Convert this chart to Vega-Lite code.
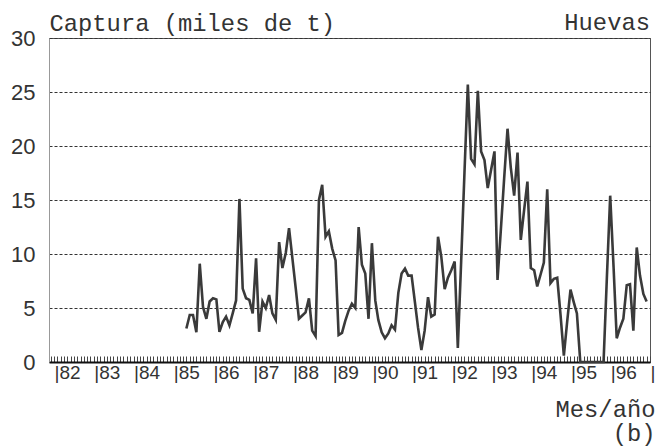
{
  "$schema": "https://vega.github.io/schema/vega-lite/v6.json",
  "width": 601,
  "height": 324,
  "autosize": "none",
  "padding": {"left": 49, "top": 38, "right": 8, "bottom": 85},
  "background": "white",
  "config": {"view": {"stroke": "#555", "strokeWidth": 1}},
  "layer": [
    {
      "data": {"values": [
        {"mes": "1985-05", "captura": 3.1},
        {"mes": "1985-06", "captura": 4.35},
        {"mes": "1985-07", "captura": 4.35},
        {"mes": "1985-08", "captura": 2.75},
        {"mes": "1985-09", "captura": 9.1},
        {"mes": "1985-10", "captura": 5.1},
        {"mes": "1985-11", "captura": 4.0},
        {"mes": "1985-12", "captura": 5.6},
        {"mes": "1986-01", "captura": 5.9},
        {"mes": "1986-02", "captura": 5.8},
        {"mes": "1986-03", "captura": 2.8},
        {"mes": "1986-04", "captura": 3.7},
        {"mes": "1986-05", "captura": 4.2},
        {"mes": "1986-06", "captura": 3.4},
        {"mes": "1986-07", "captura": 4.5},
        {"mes": "1986-08", "captura": 5.7},
        {"mes": "1986-09", "captura": 15.1},
        {"mes": "1986-10", "captura": 6.8},
        {"mes": "1986-11", "captura": 5.9},
        {"mes": "1986-12", "captura": 5.75},
        {"mes": "1987-01", "captura": 4.5},
        {"mes": "1987-02", "captura": 9.6},
        {"mes": "1987-03", "captura": 2.8},
        {"mes": "1987-04", "captura": 5.6},
        {"mes": "1987-05", "captura": 5.0},
        {"mes": "1987-06", "captura": 6.2},
        {"mes": "1987-07", "captura": 4.5},
        {"mes": "1987-08", "captura": 3.9},
        {"mes": "1987-09", "captura": 11.1},
        {"mes": "1987-10", "captura": 8.7},
        {"mes": "1987-11", "captura": 10.1},
        {"mes": "1987-12", "captura": 12.4},
        {"mes": "1988-01", "captura": 9.6},
        {"mes": "1988-02", "captura": 6.8},
        {"mes": "1988-03", "captura": 4.0},
        {"mes": "1988-04", "captura": 4.3},
        {"mes": "1988-05", "captura": 4.6},
        {"mes": "1988-06", "captura": 5.9},
        {"mes": "1988-07", "captura": 2.9},
        {"mes": "1988-08", "captura": 2.4},
        {"mes": "1988-09", "captura": 15.0},
        {"mes": "1988-10", "captura": 16.4},
        {"mes": "1988-11", "captura": 11.6},
        {"mes": "1988-12", "captura": 12.1},
        {"mes": "1989-01", "captura": 10.5},
        {"mes": "1989-02", "captura": 9.4},
        {"mes": "1989-03", "captura": 2.5},
        {"mes": "1989-04", "captura": 2.7},
        {"mes": "1989-05", "captura": 3.8},
        {"mes": "1989-06", "captura": 4.75},
        {"mes": "1989-07", "captura": 5.4},
        {"mes": "1989-08", "captura": 5.0},
        {"mes": "1989-09", "captura": 12.5},
        {"mes": "1989-10", "captura": 9.0},
        {"mes": "1989-11", "captura": 8.2},
        {"mes": "1989-12", "captura": 4.0},
        {"mes": "1990-01", "captura": 11.0},
        {"mes": "1990-02", "captura": 5.7},
        {"mes": "1990-03", "captura": 3.9},
        {"mes": "1990-04", "captura": 2.75},
        {"mes": "1990-05", "captura": 2.2},
        {"mes": "1990-06", "captura": 2.65},
        {"mes": "1990-07", "captura": 3.4},
        {"mes": "1990-08", "captura": 3.0},
        {"mes": "1990-09", "captura": 6.4},
        {"mes": "1990-10", "captura": 8.2},
        {"mes": "1990-11", "captura": 8.65},
        {"mes": "1990-12", "captura": 8.0},
        {"mes": "1991-01", "captura": 8.0},
        {"mes": "1991-02", "captura": 5.5},
        {"mes": "1991-03", "captura": 3.2},
        {"mes": "1991-04", "captura": 1.1},
        {"mes": "1991-05", "captura": 2.9},
        {"mes": "1991-06", "captura": 6.0},
        {"mes": "1991-07", "captura": 4.2},
        {"mes": "1991-08", "captura": 4.4},
        {"mes": "1991-09", "captura": 11.6},
        {"mes": "1991-10", "captura": 9.75},
        {"mes": "1991-11", "captura": 6.75},
        {"mes": "1991-12", "captura": 7.8},
        {"mes": "1992-01", "captura": 8.5},
        {"mes": "1992-02", "captura": 9.3},
        {"mes": "1992-03", "captura": 1.3},
        {"mes": "1992-04", "captura": 9.4},
        {"mes": "1992-05", "captura": 17.5},
        {"mes": "1992-06", "captura": 25.7},
        {"mes": "1992-07", "captura": 18.8},
        {"mes": "1992-08", "captura": 18.3},
        {"mes": "1992-09", "captura": 25.1},
        {"mes": "1992-10", "captura": 19.5},
        {"mes": "1992-11", "captura": 18.7},
        {"mes": "1992-12", "captura": 16.1},
        {"mes": "1993-01", "captura": 17.8},
        {"mes": "1993-02", "captura": 19.5},
        {"mes": "1993-03", "captura": 7.6},
        {"mes": "1993-04", "captura": 12.3},
        {"mes": "1993-05", "captura": 17.0},
        {"mes": "1993-06", "captura": 21.6},
        {"mes": "1993-07", "captura": 18.0},
        {"mes": "1993-08", "captura": 15.4},
        {"mes": "1993-09", "captura": 19.4},
        {"mes": "1993-10", "captura": 11.3},
        {"mes": "1993-11", "captura": 14.1},
        {"mes": "1993-12", "captura": 16.7},
        {"mes": "1994-01", "captura": 8.7},
        {"mes": "1994-02", "captura": 8.5},
        {"mes": "1994-03", "captura": 7.0},
        {"mes": "1994-04", "captura": 8.1},
        {"mes": "1994-05", "captura": 9.2},
        {"mes": "1994-06", "captura": 16.0},
        {"mes": "1994-07", "captura": 7.3},
        {"mes": "1994-08", "captura": 7.7},
        {"mes": "1994-09", "captura": 7.8},
        {"mes": "1994-10", "captura": 4.4},
        {"mes": "1994-11", "captura": 0.6},
        {"mes": "1994-12", "captura": 3.7},
        {"mes": "1995-01", "captura": 6.7},
        {"mes": "1995-02", "captura": 5.5},
        {"mes": "1995-03", "captura": 4.5},
        {"mes": "1995-04", "captura": 0},
        {"mes": "1995-05", "captura": 0},
        {"mes": "1995-06", "captura": 0},
        {"mes": "1995-07", "captura": 0},
        {"mes": "1995-08", "captura": 0},
        {"mes": "1995-09", "captura": 0},
        {"mes": "1995-10", "captura": 0},
        {"mes": "1995-11", "captura": 0},
        {"mes": "1995-12", "captura": 7.7},
        {"mes": "1996-01", "captura": 15.4},
        {"mes": "1996-02", "captura": 8.8},
        {"mes": "1996-03", "captura": 2.2},
        {"mes": "1996-04", "captura": 3.2},
        {"mes": "1996-05", "captura": 4.0},
        {"mes": "1996-06", "captura": 7.1},
        {"mes": "1996-07", "captura": 7.2},
        {"mes": "1996-08", "captura": 2.9},
        {"mes": "1996-09", "captura": 10.6},
        {"mes": "1996-10", "captura": 8.0},
        {"mes": "1996-11", "captura": 6.3},
        {"mes": "1996-12", "captura": 5.6}
      ]},
      "mark": {"type": "line", "color": "#3a3a3a", "strokeWidth": 2.6},
      "encoding": {
        "x": {
          "field": "mes",
          "type": "temporal",
          "scale": {"type": "utc", "domain": [{"year": 1981, "month": 11, "date": 15, "utc": true}, {"year": 1997, "month": 1, "date": 1, "utc": true}]},
          "axis": {
            "title": ["Mes/año", "(b)\u00a0"],
            "titleFont": "Liberation Mono",
            "titleFontSize": 23.8,
            "titleFontWeight": "normal",
            "titleColor": "#333",
            "titleAlign": "right",
            "titleX": 606,
            "titleY": 54,
            "titleBaseline": "alphabetic",
            "titleLineHeight": 24,
            "tickCount": {"interval": "month", "step": 1},
            "tickSize": -6,
            "tickColor": "#444",
            "tickWidth": 1,
            "domainColor": "#111",
            "domainWidth": 2,
            "grid": false,
            "labelExpr": "utcmonth(datum.value) == 0 ? (utcyear(datum.value) == 1997 ? '|' : '|' + utcFormat(datum.value, '%y')) : ''",
            "labelAlign": "left",
            "labelBaseline": "top",
            "labelPadding": 7,
            "labelFont": "Liberation Sans",
            "labelFontSize": 19,
            "labelColor": "#333",
            "labelOverlap": false,
            "labelFlush": false,
            "labelBound": false
          }
        },
        "y": {
          "field": "captura",
          "type": "quantitative",
          "scale": {"domain": [0, 30], "nice": false},
          "axis": {
            "values": [0, 5, 10, 15, 20, 25, 30],
            "grid": true,
            "gridDash": [3, 2],
            "gridColor": "#333",
            "gridWidth": 1,
            "ticks": false,
            "domainColor": "#999",
            "domainWidth": 1,
            "labelFont": "Liberation Sans",
            "labelFontSize": 22,
            "labelColor": "#333",
            "labelPadding": 14,
            "title": "Captura (miles de t)",
            "titleAngle": 0,
            "titleAlign": "left",
            "titleBaseline": "alphabetic",
            "titleX": 0,
            "titleY": -8,
            "titleFont": "Liberation Mono",
            "titleFontSize": 23.8,
            "titleFontWeight": "normal",
            "titleColor": "#333"
          }
        }
      }
    },
    {
      "data": {"values": [{"etiqueta": "Huevas"}]},
      "mark": {"type": "text", "font": "Liberation Mono", "fontSize": 23.8, "fontWeight": "normal", "color": "#333", "align": "right", "baseline": "alphabetic", "dy": -8, "clip": false},
      "encoding": {
        "x": {"datum": {"year": 1997, "month": 1, "date": 1, "utc": true}, "type": "temporal"},
        "y": {"datum": 30, "type": "quantitative"},
        "text": {"field": "etiqueta", "type": "nominal"}
      }
    }
  ]
}
